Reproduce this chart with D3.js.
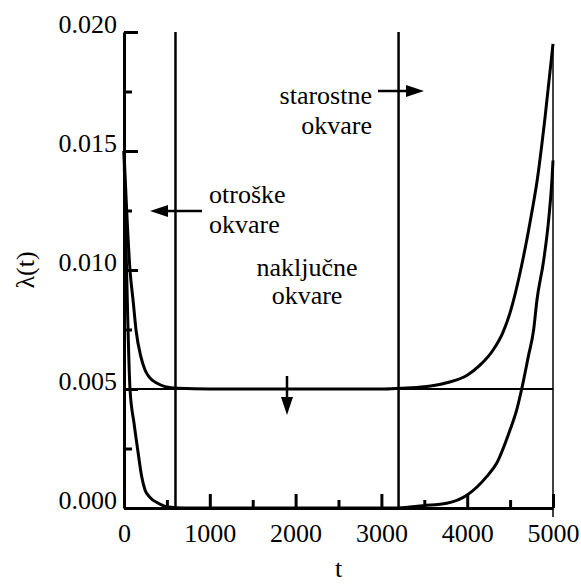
<!DOCTYPE html>
<html>
<head>
<meta charset="utf-8">
<script src="https://cdn.jsdelivr.net/npm/d3@7"></script>
</head>
<body style="margin:0">
<div id="chart"></div>
<script>
// bathtub curve - lambda(t)

// upper curve (otroske + nakljucne + starostne)
var tUpper = [0, 70, 109, 140, 198, 245, 294, 381, 478, 629, 1000, 2000, 3000, 3217, 3500, 3760, 4000, 4149, 4304, 4413, 4499, 4635, 4732, 4817, 4907, 5000];
var lamUpper = [0.0150, 0.0100, 0.00861, 0.00748, 0.00634, 0.0058, 0.0055, 0.00525, 0.0051, 0.00503, 0.0050, 0.0050, 0.0050, 0.00503, 0.00509, 0.00526, 0.00558, 0.00600, 0.00665, 0.00735, 0.00820, 0.0102, 0.0120, 0.0138, 0.0164, 0.0195];

// lower curve
var tLower = [0, 30, 70, 117, 160, 206, 245, 294, 400, 500, 700, 1000, 2000, 3000, 3200, 3485, 3760, 4000, 4227, 4343, 4499, 4577, 4635, 4712, 4774, 4813, 4891, 4949, 4988, 5000];
var lamLower = [0.0150, 0.0100, 0.0050, 0.00356, 0.00244, 0.00132, 0.00076, 0.00048, 0.0002, 0.00005, 0, 0, 0, 0, 0, 0.0001, 0.0002, 0.00055, 0.00132, 0.00188, 0.00328, 0.00412, 0.0050, 0.00636, 0.00748, 0.00874, 0.0104, 0.0121, 0.0138, 0.0146];

var constRate = 0.005;         // nakljucne okvare
var boundaries = [600, 3200];  // vertical lines
var xMajor = [0, 1000, 2000, 3000, 4000, 5000];
var xMinor = [500, 1500, 2500, 3500, 4500];
var yMajor = [0, 0.005, 0.010, 0.015, 0.020];
var yMinor = [0.0025, 0.0075, 0.0125, 0.0175];

var w = 581, h = 584;
var FONT = "'Liberation Serif'";
var FS = "26px";

var svg = d3.select("#chart").append("svg")
    .attr("width", w)
    .attr("height", h)
    .style("font-family", FONT);

var x = d3.scaleLinear().domain([0, 5000]).range([124, 553]);
var y = d3.scaleLinear().domain([0, 0.020]).range([508, 32]);

// vertical boundary lines
svg.selectAll("line.bound")
    .data(boundaries)
    .enter()
    .append("line")
    .attr("class", "bound")
    .attr("x1", function(d) { return x(d); })
    .attr("x2", function(d) { return x(d); })
    .attr("y1", y(0.020))
    .attr("y2", y(0))
    .attr("stroke", "#000")
    .attr("stroke-width", 2.5);

// constant rate line
svg.append("line")
    .attr("x1", x(0)).attr("x2", x(5000))
    .attr("y1", y(constRate)).attr("y2", y(constRate))
    .attr("stroke", "#000")
    .attr("stroke-width", 2.2);

var line = d3.line()
    .x(function(d) { return x(d[0]); })
    .y(function(d) { return y(d[1]); })
    .curve(d3.curveMonotoneX);

var upper = d3.zip(tUpper, lamUpper);
var lower = d3.zip(tLower, lamLower);

[upper, lower].forEach(function(s) {
  svg.append("path")
      .datum(s)
      .attr("fill", "none")
      .attr("stroke", "#000")
      .attr("stroke-width", 3)
      .attr("stroke-linejoin", "round")
      .attr("d", line);
});

// thin line at t = 5000
svg.append("line")
    .attr("x1", x(5000)).attr("x2", x(5000))
    .attr("y1", y(lamUpper[lamUpper.length - 1]))
    .attr("y2", y(0) + 9)
    .attr("stroke", "#000")
    .attr("stroke-width", 1.5);

// axes
function styleAxis(g) {
  g.attr("font-family", null).attr("font-size", null);
  g.select(".domain").attr("stroke-width", 3);
  g.selectAll(".tick line").attr("stroke-width", 3);
  g.selectAll("text").style("font-family", FONT).style("font-size", FS);
}

var xAxis = svg.append("g")
    .attr("transform", "translate(0," + y(0) + ")")
    .call(d3.axisBottom(x).tickValues(xMajor).tickSize(-14).tickSizeOuter(0).tickFormat(d3.format("d")));
styleAxis(xAxis);
xAxis.selectAll("text").attr("y", 34).attr("dy", 0);

svg.append("g")
    .attr("transform", "translate(0," + y(0) + ")")
    .call(d3.axisBottom(x).tickValues(xMinor).tickSize(-8).tickFormat(""))
    .call(function(g) { g.select(".domain").remove(); g.selectAll(".tick line").attr("stroke-width", 3); });

var yAxis = svg.append("g")
    .attr("transform", "translate(" + x(0) + ",0)")
    .call(d3.axisLeft(y).tickValues(yMajor).tickSize(-14).tickSizeOuter(0).tickPadding(7).tickFormat(d3.format(".3f")));
styleAxis(yAxis);
yAxis.selectAll("text").attr("dy", "0.02em");

svg.append("g")
    .attr("transform", "translate(" + x(0) + ",0)")
    .call(d3.axisLeft(y).tickValues(yMinor).tickSize(-8).tickFormat(""))
    .call(function(g) { g.select(".domain").remove(); g.selectAll(".tick line").attr("stroke-width", 3); });

// axis titles
svg.append("text")
    .attr("transform", "translate(34,270) rotate(-90)")
    .attr("text-anchor", "middle")
    .style("font-family", FONT)
    .style("font-size", FS)
    .text("λ(t)");

svg.append("text")
    .attr("x", (x(0) + x(5000)) / 2)
    .attr("y", 577)
    .attr("text-anchor", "middle")
    .style("font-family", FONT)
    .style("font-size", FS)
    .text("t");

// annotations
function label(lines, px, py, anchor, gap) {
  var t = svg.append("text")
      .attr("x", px).attr("y", py)
      .attr("text-anchor", anchor)
      .style("font-family", FONT)
      .style("font-size", FS);
  lines.forEach(function(s, i) {
    t.append("tspan").attr("x", px).attr("dy", i ? gap : 0).text(s);
  });
}
label(["otroške", "okvare"], 209, 203, "start", 30);
label(["starostne", "okvare"], 372, 104, "end", 30);
label(["naključne", "okvare"], 307, 276, "middle", 28);

function arrow(x1, y1, x2, y2) {
  var ang = Math.atan2(y2 - y1, x2 - x1);
  var len = 18, hw = 6;
  var bx = x2 - len * Math.cos(ang), by = y2 - len * Math.sin(ang);
  svg.append("line")
      .attr("x1", x1).attr("y1", y1).attr("x2", bx).attr("y2", by)
      .attr("stroke", "#000").attr("stroke-width", 2.5);
  svg.append("path")
      .attr("d", "M" + x2 + "," + y2 +
        "L" + (bx + hw * Math.sin(ang)) + "," + (by - hw * Math.cos(ang)) +
        "L" + (bx - hw * Math.sin(ang)) + "," + (by + hw * Math.cos(ang)) + "Z")
      .attr("fill", "#000");
}
arrow(202, 211, 150, 211);
arrow(378, 91, 424, 91);
arrow(287, 376, 287, 415);
</script>
</body>
</html>
